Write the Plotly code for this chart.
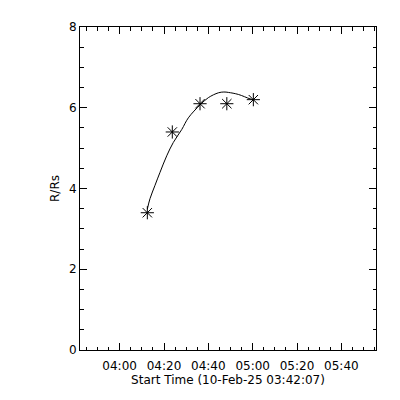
import plotly.graph_objects as go

# Measured data points (height-time)
obs_times = ["2025-02-10 04:12:29", "2025-02-10 04:23:45", "2025-02-10 04:36:15",
             "2025-02-10 04:48:20", "2025-02-10 05:00:18"]
obs_r = [3.4, 5.4, 6.1, 6.1, 6.2]

# Fitted curve
fit_times = ["2025-02-10 04:12:29", "2025-02-10 04:13:42", "2025-02-10 04:15:57",
             "2025-02-10 04:18:12", "2025-02-10 04:21:14", "2025-02-10 04:24:12",
             "2025-02-10 04:28:00", "2025-02-10 04:30:59", "2025-02-10 04:36:15",
             "2025-02-10 04:40:00", "2025-02-10 04:44:31", "2025-02-10 04:47:00",
             "2025-02-10 04:49:02", "2025-02-10 04:53:32", "2025-02-10 04:58:49",
             "2025-02-10 05:00:18"]
fit_r = [3.49, 3.75, 4.08, 4.40, 4.81, 5.14, 5.46, 5.75, 6.07, 6.25, 6.37, 6.39,
         6.38, 6.33, 6.22, 6.20]

x_range = ["2025-02-10 03:42:07", "2025-02-10 05:55:37"]
y_range = [0, 8]
x_title = "Start Time (10-Feb-25 03:42:07)"
y_title = "R/Rs"

font = dict(family="DejaVu Sans", size=12, color="black")

fig = go.Figure()
fig.add_trace(go.Scatter(x=fit_times, y=fit_r, mode="lines",
                         line=dict(color="black", width=1, shape="spline"),
                         hoverinfo="skip", showlegend=False))
fig.add_trace(go.Scatter(x=obs_times, y=obs_r, mode="markers",
                         marker=dict(symbol="asterisk-open", size=11,
                                     line=dict(color="black", width=1), color="black"),
                         showlegend=False))

fig.update_layout(
    width=400, height=400,
    margin=dict(l=72, r=32, t=15, b=58),
    paper_bgcolor="white", plot_bgcolor="white",
    font=font,
    xaxis=dict(
        type="date", range=x_range,
        tick0="2025-02-10 04:00:00", dtick=20 * 60 * 1000,
        tickformat="%H:%M",
        ticks="inside", ticklen=7, tickcolor="black", tickwidth=1,
        ticklabelstandoff=5,
        minor=dict(ticks="inside", ticklen=3.5, dtick=5 * 60 * 1000,
                   tickcolor="black", showgrid=False),
        showline=True, linecolor="black", linewidth=1, mirror="ticks",
        showgrid=False, zeroline=False,
        title=dict(text=x_title, standoff=3, font=font),
        tickfont=font,
    ),
    yaxis=dict(
        range=y_range, dtick=2, tick0=0,
        ticks="inside", ticklen=7, tickcolor="black", tickwidth=1,
        minor=dict(ticks="inside", ticklen=3.5, dtick=0.5,
                   tickcolor="black", showgrid=False),
        showline=True, linecolor="black", linewidth=1, mirror="ticks",
        showgrid=False, zeroline=False,
        title=dict(text=y_title, standoff=6, font=font),
        tickfont=font,
    ),
)

fig.write_html("out.html")
